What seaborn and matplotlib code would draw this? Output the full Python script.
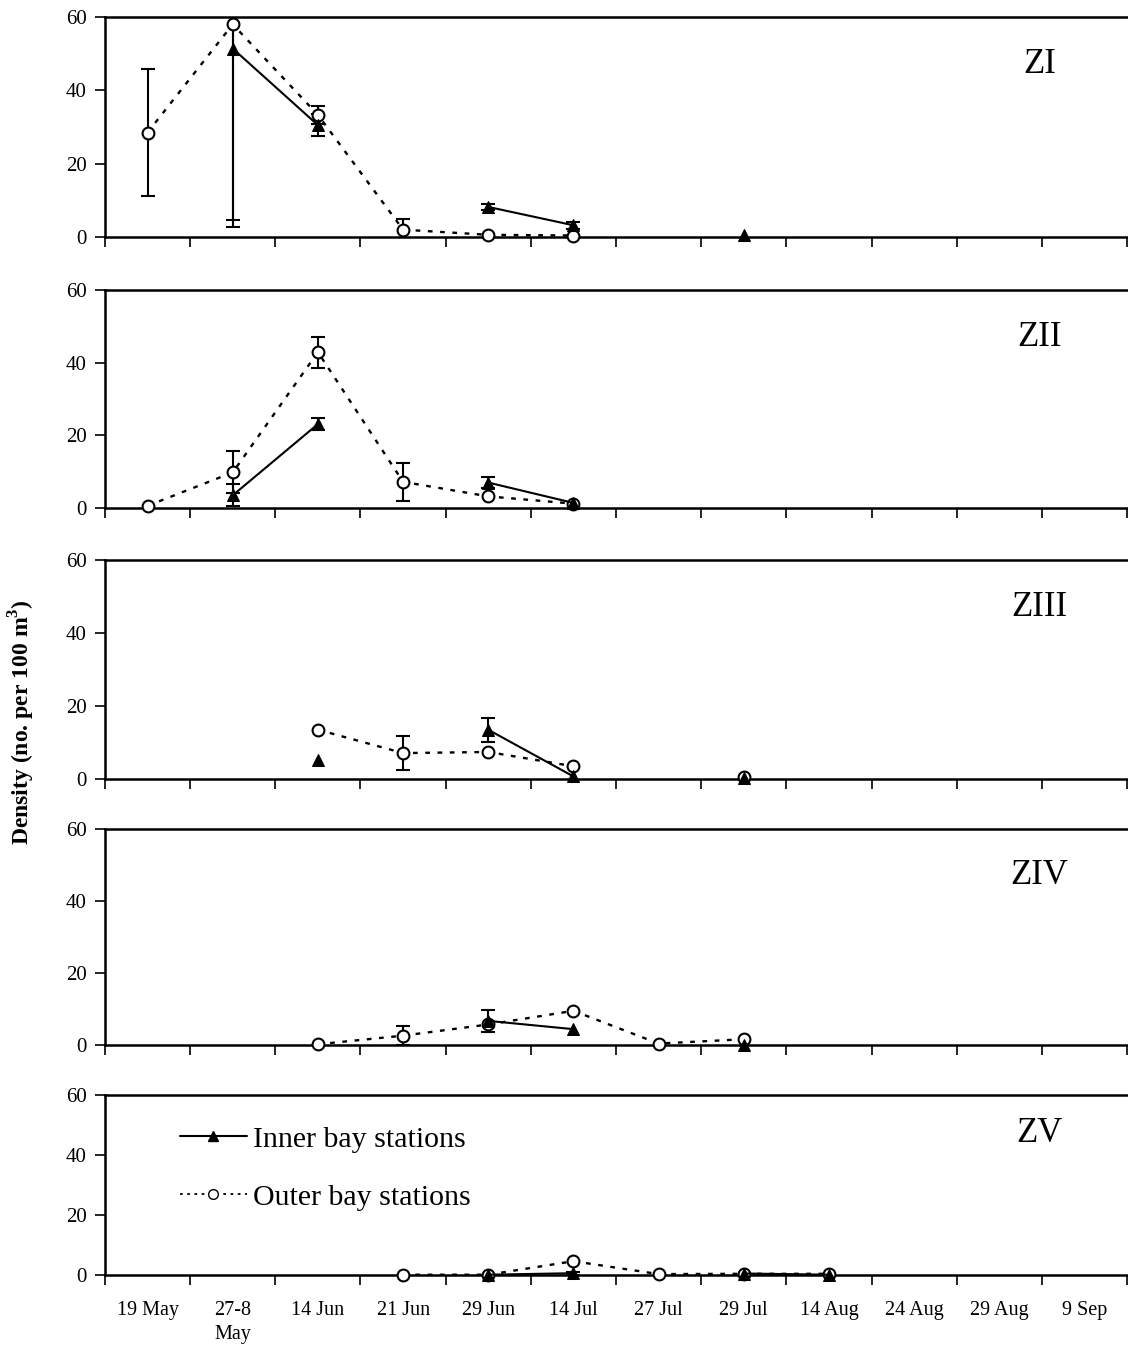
import numpy as np
import pandas as pd
import matplotlib
matplotlib.use("Agg")
import matplotlib.pyplot as plt
from matplotlib.lines import Line2D
import seaborn as sns

sns.set_theme(style="white")
plt.rcParams['font.family'] = ['Liberation Serif', 'DejaVu Serif']
plt.rcParams['mathtext.fontset'] = 'custom'
plt.rcParams['mathtext.rm'] = 'Liberation Serif'
plt.rcParams['mathtext.bf'] = 'Liberation Serif:bold'
plt.rcParams['text.color'] = 'black'
plt.rcParams['xtick.color'] = 'black'
plt.rcParams['ytick.color'] = 'black'
plt.rcParams['axes.labelcolor'] = 'black'

dates = ["19 May", "27-8\nMay", "14 Jun", "21 Jun", "29 Jun", "14 Jul",
         "27 Jul", "29 Jul", "14 Aug", "24 Aug", "29 Aug", "9 Sep"]
panels = ["ZI", "ZII", "ZIII", "ZIV", "ZV"]
N = None

# Inner bay stations (triangles)
inner_ZI   = [N, 51.4, 30.5, N, 8.2, 3.2, N, 0.5, N, N, N, N]
inner_ZII  = [N, 3.5, 23.1, N, 7.0, 1.4, N, N, N, N, N, N]
inner_ZIII = [N, N, 5.1, N, 13.5, 0.7, N, 0.2, N, N, N, N]
inner_ZIV  = [N, N, N, N, 6.7, 4.4, N, 0.1, N, N, N, N]
inner_ZV   = [N, N, N, N, 0.1, 0.6, N, 0.5, 0.1, N, N, N]
inner_err_ZI   = [N, 46.7, 3.0, N, 0.8, 1.0, N, N, N, N, N, N]
inner_err_ZII  = [N, 3.0, 1.7, N, 1.4, N, N, N, N, N, N, N]
inner_err_ZIII = [N, N, N, N, 3.3, N, N, N, N, N, N, N]
inner_err_ZIV  = [N, N, N, N, 3.1, N, N, N, N, N, N, N]
inner_err_ZV   = [N, N, N, N, N, 0.5, N, N, N, N, N, N]

# Outer bay stations (open circles)
outer_ZI   = [28.5, 58.0, 33.3, 2.0, 0.6, 0.4, N, N, N, N, N, N]
outer_ZII  = [0.6, 9.8, 42.9, 7.2, 3.2, 1.2, N, N, N, N, N, N]
outer_ZIII = [N, N, 13.5, 7.1, 7.4, 3.5, N, 0.5, N, N, N, N]
outer_ZIV  = [N, N, 0.2, 2.6, 5.7, 9.5, 0.4, 1.6, N, N, N, N]
outer_ZV   = [N, N, N, 0.1, 0.1, 4.6, 0.3, 0.4, 0.4, N, N, N]
outer_err_ZI   = [17.3, 55.4, 2.4, 3.0, N, N, N, N, N, N, N, N]
outer_err_ZII  = [N, 5.8, 4.3, 5.3, N, N, N, N, N, N, N, N]
outer_err_ZIII = [N, N, N, 4.7, N, N, N, N, N, N, N, N]
outer_err_ZIV  = [N, N, N, 2.7, N, N, N, N, N, N, N, N]
outer_err_ZV   = [N, N, N, N, N, N, N, N, N, N, N, N]

inner = [inner_ZI, inner_ZII, inner_ZIII, inner_ZIV, inner_ZV]
outer = [outer_ZI, outer_ZII, outer_ZIII, outer_ZIV, outer_ZV]
inner_err = [inner_err_ZI, inner_err_ZII, inner_err_ZIII, inner_err_ZIV, inner_err_ZV]
outer_err = [outer_err_ZI, outer_err_ZII, outer_err_ZIII, outer_err_ZIV, outer_err_ZV]


def to_frame(vals, errs):
    rows = []
    seg = 0
    prev = False
    for i, v in enumerate(vals):
        if v is None:
            prev = False
            continue
        if not prev:
            seg += 1
        prev = True
        e = errs[i]
        rows.append(dict(x=i, y=v, err=np.nan if e is None else e, seg=seg))
    return pd.DataFrame(rows)


W, H = 1128, 1349
fig = plt.figure(figsize=(W / 100, H / 100), dpi=100)

# panel extents in pixels (top, bottom)
extents = [(17, 237), (290, 508), (560, 779), (829, 1045), (1095, 1275)]
left_px, right_px = 105, 1127

for k, (top, bot) in enumerate(extents):
    ax = fig.add_axes([left_px / W, (H - bot) / H, (right_px - left_px) / W, (bot - top) / H])
    dfo = to_frame(outer[k], outer_err[k])
    dfi = to_frame(inner[k], inner_err[k])

    for df in (dfo, dfi):
        e = df.dropna(subset=["err"])
        if len(e):
            ax.errorbar(e["x"], e["y"], yerr=e["err"], fmt="none", ecolor="black",
                        elinewidth=1.5, capsize=5, capthick=1.5, zorder=2)

    sns.lineplot(data=dfo, x="x", y="y", units="seg", estimator=None, ax=ax,
                 color="black", linestyle=(0, (2, 3.2)), linewidth=1.7,
                 marker="o", markersize=8.5, markerfacecolor="white",
                 markeredgecolor="black", markeredgewidth=1.5, clip_on=False,
                 zorder=3, legend=False)
    sns.lineplot(data=dfi, x="x", y="y", units="seg", estimator=None, ax=ax,
                 color="black", linestyle="-", linewidth=1.5,
                 marker="^", markersize=8.5, markerfacecolor="black",
                 markeredgecolor="black", clip_on=False, zorder=4, legend=False)

    ax.set_xlim(-0.5, len(dates) - 0.5)
    ax.set_ylim(0, 60)
    ax.set_xlabel("")
    ax.set_ylabel("")
    ax.set_yticks([0, 20, 40, 60])
    ax.set_yticklabels(["0", "20", "40", "60"], fontsize=15, color="black")
    ax.set_xticks(np.arange(-0.5, len(dates), 1.0))
    ax.set_xticklabels([])
    ax.set_xticks(np.arange(len(dates)), minor=True)
    if k == len(extents) - 1:
        ax.set_xticklabels(dates, minor=True, fontsize=14.5, color="black",
                           va="top", linespacing=1.35)
    else:
        ax.set_xticklabels([], minor=True)
    ax.tick_params(axis="x", which="major", direction="out", length=7, width=1.2,
                   color="black", bottom=True)
    ax.tick_params(axis="x", which="minor", length=0, pad=19, labelcolor="black")
    ax.tick_params(axis="y", direction="out", length=7, width=1.2, color="black",
                   left=True, pad=6, labelcolor="black")
    for s in ["left", "bottom", "top"]:
        ax.spines[s].set_visible(True)
        ax.spines[s].set_color("black")
        ax.spines[s].set_linewidth(1.8)
    ax.spines["right"].set_visible(False)
    ax.grid(False)
    ax.text(10.47, 47, panels[k], fontsize=25, ha="center", va="center", color="black")

    if k == len(extents) - 1:
        handles = [
            Line2D([], [], color="black", linestyle="-", linewidth=1.5, marker="^",
                   markersize=7, markerfacecolor="black"),
            Line2D([], [], color="black", linestyle=(0, (1.5, 2.5)), linewidth=1.3,
                   marker="o", markersize=7, markerfacecolor="white",
                   markeredgecolor="black"),
        ]
        leg = ax.legend(handles, ["Inner bay stations", "Outer bay stations"],
                        loc="upper left", bbox_to_anchor=(0.073, 0.83), frameon=False,
                        fontsize=21.5, handlelength=2.25, handletextpad=0.2,
                        labelspacing=1.05, borderpad=0, borderaxespad=0)
        for t in leg.get_texts():
            t.set_color("black")

fig.text(22 / W, (H - 722) / H, r"Density (no. per 100 m$^{\mathbf{3}}$)",
         rotation=90, ha="center", va="center", fontsize=17, fontweight="bold",
         color="black")

fig.savefig("out.png", dpi=100, facecolor="white")
